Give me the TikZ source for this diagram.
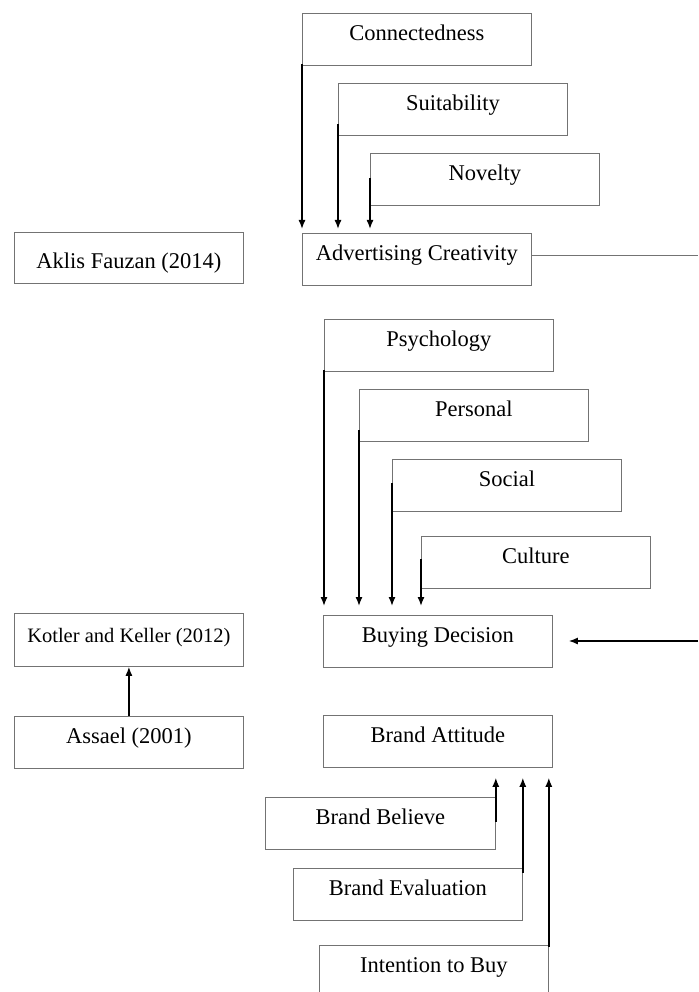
\documentclass[tikz,border=0pt]{standalone}
\usepackage{fontspec}
\setmainfont{Liberation Serif}
\usetikzlibrary{arrows.meta,calc}
\definecolor{boxgray}{RGB}{115,115,115}
\begin{document}
\begin{tikzpicture}[x=1pt,y=-1pt,
  box/.style={draw=boxgray, line width=0.8pt, rectangle, anchor=north west,
    minimum width=229pt, inner xsep=0pt, inner ysep=0pt,
    text height=27pt, text depth=25pt, font=\fontsize{22.5}{26}\selectfont},
  arr/.style={draw=black, line width=1.4pt, -{Latex[length=9pt,width=7pt]}},
  thinline/.style={draw=boxgray, line width=0.8pt}]
\useasboundingbox (0,0) rectangle (698,992);
\clip (0,0) rectangle (698,992);
% top group
\node[box] (conn) at (302,13) {Connectedness};
\node[box] (suit) at (338,83) {Suitability};
\node[box] (nov) at (370,153) {Novelty};
\node[box] (adv) at (302,233) {Advertising Creativity};
\node[box, text height=36pt, text depth=15pt] (akl) at (14,232) {Aklis Fauzan (2014)};
% middle group
\node[box] (psy) at (324,319) {Psychology};
\node[box] (pers) at (359,389) {Personal};
\node[box] (soc) at (392,459) {Social};
\node[box] (cult) at (421,536) {Culture};
\node[box] (buy) at (323,615) {Buying Decision};
\node[box, text height=29pt, text depth=24pt, font=\fontsize{20.5}{24}\selectfont] (kot) at (14,613) {Kotler and Keller (2012)};
\node[box] (ass) at (14,716) {Assael (2001)};
% bottom group
\node[box] (att) at (323,715) {Brand Attitude};
\node[box, minimum width=230pt] (bel) at (265,797) {Brand Believe};
\node[box] (eva) at (293,868) {Brand Evaluation};
\node[box, text depth=40pt] (int) at (319,945) {Intention to Buy};
% helper coordinates
\coordinate (advtop) at ($(adv.north)+(0,-4)$);
\coordinate (buytop) at ($(buy.north)+(0,-9)$);
\coordinate (attbot) at ($(att.south)+(0,10)$);
\coordinate (re1) at (698,255);
\coordinate (re2) at (698,641);
% arrows to Advertising Creativity
\draw[arr] ($(conn.south west)+(0,-2)$) -- (conn.west |- advtop);
\draw[arr] ($(suit.south west)+(0,-12)$) -- (suit.west |- advtop);
\draw[arr] ($(nov.south west)+(0,-28)$) -- (nov.west |- advtop);
\draw[thinline] (adv.east |- re1) -- (re1);
% arrows to Buying Decision
\draw[arr] ($(psy.south west)+(0,-2)$) -- (psy.west |- buytop);
\draw[arr] ($(pers.south west)+(0,-12)$) -- (pers.west |- buytop);
\draw[arr] ($(soc.south west)+(0,-29)$) -- (soc.west |- buytop);
\draw[arr] ($(cult.south west)+(0,-30)$) -- (cult.west |- buytop);
\draw[arr] (re2) -- ($(buy.east |- re2)+(16,0)$);
% left
\draw[arr] (ass.north) -- (kot.south);
% arrows to Brand Attitude
\draw[arr] ($(bel.north east)+(0,25)$) -- (bel.east |- attbot);
\draw[arr] ($(eva.north east)+(0,5)$) -- (eva.east |- attbot);
\draw[arr] ($(int.north east)+(0,2)$) -- (int.east |- attbot);
\end{tikzpicture}
\end{document}
